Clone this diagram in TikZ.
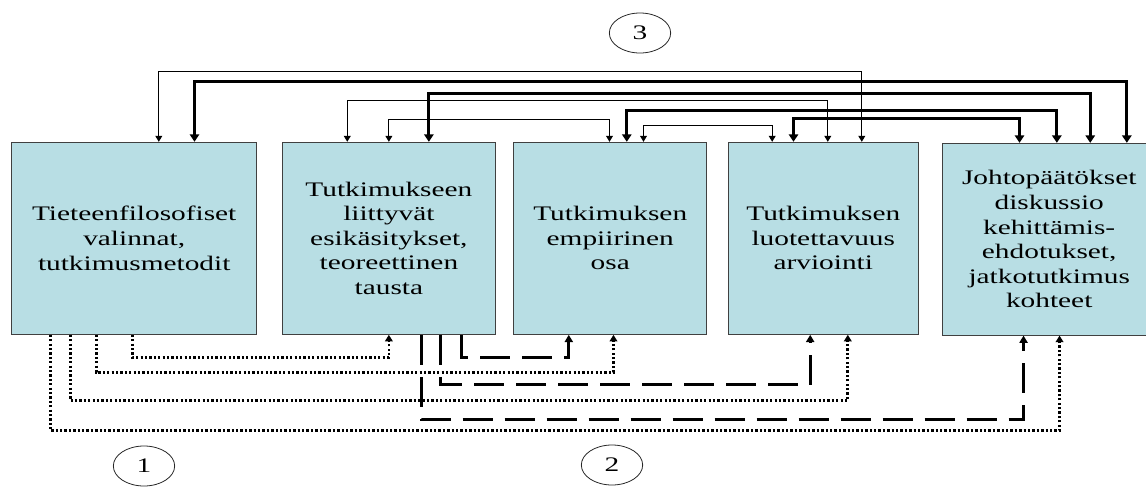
\documentclass[tikz,border=0pt]{standalone}
\usepackage{fontspec}
\setmainfont{Liberation Serif}[FakeStretch=1.42]
\usetikzlibrary{arrows.meta,calc,shapes.geometric}
\definecolor{boxfill}{RGB}{184,222,228}
\definecolor{boxedge}{RGB}{64,64,64}

\begin{document}
\begin{tikzpicture}[x=0.75pt,y=-0.75pt,
  stage/.style={draw=boxedge, line width=0.75pt, fill=boxfill, align=center,
    inner sep=0pt, minimum height=144pt, font=\fontsize{15.5pt}{18.4pt}\selectfont},
  tag/.style={ellipse, draw=black!85, line width=0.6pt, minimum width=46pt,
    minimum height=30pt, inner sep=0pt, font=\fontsize{15.5pt}{18pt}\selectfont},
  thinlink/.style={line width=0.75pt,
    {Triangle[length=4.5pt,width=5.2pt]}-{Triangle[length=4.5pt,width=5.2pt]}},
  thicklink/.style={line width=2.1pt,
    {Triangle[length=5.6pt,width=7pt]}-{Triangle[length=5.6pt,width=7pt]}},
  dotlink/.style={line width=2pt, dash pattern=on 1.7pt off 1.6pt,
    -{Triangle[length=5pt,width=5.8pt]}},
  dashlink/.style={line width=2.5pt, dash pattern=on 22.5pt off 9pt,
    -{Triangle[length=5.4pt,width=6pt]}}]

\useasboundingbox (0,0) rectangle (1146,486);
\clip (0,0) rectangle (1146,486);

% the five stages of the study
\node[stage, minimum width=183.75pt] (A) at (134.2,238.3)
  {Tieteenfilosofiset\\valinnat,\\tutkimusmetodit};
\node[stage, minimum width=159.2pt] (B) at (388.9,238.3)
  {Tutkimukseen\\liittyvät\\esikäsitykset,\\teoreettinen\\tausta};
\node[stage, minimum width=144.4pt] (C) at (610.25,238.3)
  {Tutkimuksen\\empiirinen\\osa};
\node[stage, minimum width=142.5pt] (D) at (823.3,238.3)
  {Tutkimuksen\\luotettavuus\\arviointi};
\node[stage, minimum width=160.3pt, minimum height=143.8pt] (E) at (1049.2,239.2)
  {Johtopäätökset\\diskussio\\kehittämis-\\ehdotukset,\\jatkotutkimus\\kohteet};

% group labels
\node[tag] (n1) at (144,466) {1};
\node[tag] (n2) at (612,465) {2};
\node[tag] (n3) at (640,33) {3};

% group 3: two-way links above the boxes
\draw[thinlink]  ($(A.north west)+(147.6,0)$) |- ($(D.north west)+(134,-70)$) -- ($(D.north west)+(134,0)$);
\draw[thicklink] ($(A.north west)+(183.3,0)$) |- ($(E.north west)+(185,-61.6)$) -- ($(E.north west)+(185,0)$);
\draw[thicklink] ($(B.north west)+(146.6,0)$) |- ($(E.north west)+(148.4,-49.3)$) -- ($(E.north west)+(148.4,0)$);
\draw[thinlink]  ($(B.north west)+(65,0)$) |- ($(D.north west)+(100,-41)$) -- ($(D.north west)+(100,0)$);
\draw[thicklink] ($(C.north west)+(113.3,0)$) |- ($(E.north west)+(115,-32.3)$) -- ($(E.north west)+(115,0)$);
\draw[thinlink]  ($(B.north west)+(106.6,0)$) |- ($(C.north west)+(96,-22)$) -- ($(C.north west)+(96,0)$);
\draw[thicklink] ($(D.north west)+(65.7,0)$) |- ($(E.north west)+(77.7,-24)$) -- ($(E.north west)+(77.7,0)$);
\draw[thinlink]  ($(C.north west)+(130,0)$) |- ($(D.north west)+(44.4,-16.6)$) -- ($(D.north west)+(44.4,0)$);

% group 1: dotted links from the first box
\draw[dotlink] ($(A.south west)+(121.6,0)$) |- ($(B.south west)+(106.6,23)$) -- ($(B.south west)+(106.6,0)$);
\draw[dotlink] ($(A.south west)+(85,0)$) |- ($(C.south west)+(100,37.4)$) -- ($(C.south west)+(100,0)$);
\draw[dotlink] ($(A.south west)+(59,0)$) |- ($(D.south west)+(120,65.7)$) -- ($(D.south west)+(120,0)$);
\draw[dotlink] ($(A.south west)+(39,0)$) |- ($(E.south west)+(117.7,95)$) -- ($(E.south west)+(117.7,0)$);

% group 2: dashed links from the second box
\draw[dashlink] ($(B.south west)+(179,0)$) |- ($(C.south west)+(55.3,23)$) -- ($(C.south west)+(55.3,0)$);
\draw[dashlink] ($(B.south west)+(158,0)$) |- ($(D.south west)+(82.4,50)$) -- ($(D.south west)+(82.4,0)$);
\draw[dashlink] ($(B.south west)+(139,0)$) |- ($(E.south west)+(81.7,84)$) -- ($(E.south west)+(81.7,0)$);
\end{tikzpicture}
\end{document}
